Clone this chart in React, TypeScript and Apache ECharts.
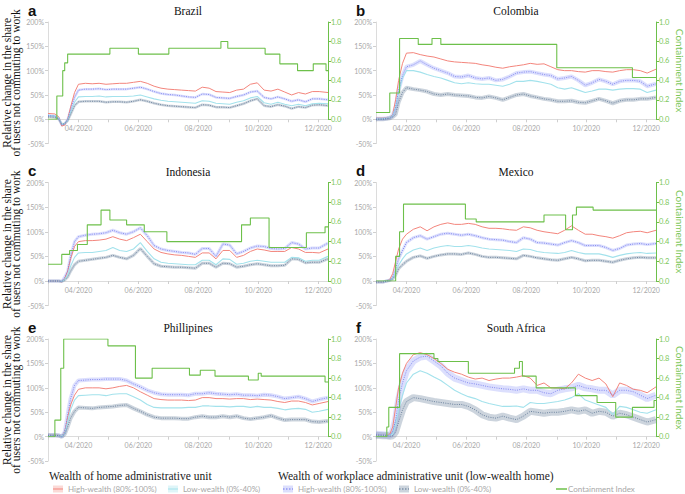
import React, { useEffect, useRef } from 'react';
import * as echarts from 'echarts';

// sample dates shared by every mobility series (MM-DD, year 2020)
const SAMPLE_DATES = [
  '03-01', '03-08', '03-12', '03-15', '03-18', '03-21', '03-24', '03-28', '04-01', '04-08',
  '04-15', '04-22', '04-29', '05-06', '05-13', '05-20', '05-27', '06-03', '06-10', '06-17',
  '06-24', '07-01', '07-08', '07-15', '07-22', '07-29', '08-05', '08-12', '08-19', '08-26',
  '09-02', '09-09', '09-16', '09-23', '09-30', '10-07', '10-14', '10-21', '10-28', '11-04',
  '11-11', '11-18', '11-25', '12-02', '12-11',
];
const MONTH_TICKS = ['03-01', '04-01', '05-01', '06-01', '07-01', '08-01', '09-01', '10-01', '11-01', '12-01'];
const MONTH_LABELS = ['04-01', '06-01', '08-01', '10-01', '12-01'];
const X_START = '03-01';
const X_END = '12-11';

// Brazil
const brazilHomeHigh = [12, 11, 5, -14, -12, 0, 25, 55, 72, 74, 73, 74, 72, 73, 74, 74, 76, 78, 74, 68, 64, 62, 61, 60, 59, 58, 66, 64, 57, 56, 55, 60, 62, 72, 75, 60, 58, 62, 56, 50, 55, 52, 57, 57, 55];
const brazilHomeLow = [8, 7, 2, -10, -9, -2, 15, 35, 46, 47, 47, 48, 46, 47, 47, 47, 48, 50, 46, 42, 39, 37, 36, 35, 34, 33, 38, 37, 33, 32, 31, 35, 38, 44, 47, 34, 31, 35, 31, 28, 31, 28, 32, 33, 32];
const brazilWorkHigh = [8, 7, 2, -12, -10, 0, 20, 45, 60, 62, 62, 63, 61, 62, 62, 62, 64, 66, 62, 57, 53, 51, 50, 48, 46, 45, 52, 51, 45, 44, 43, 47, 50, 56, 58, 45, 42, 46, 42, 37, 40, 36, 42, 42, 40];
const brazilWorkLow = [5, 4, 0, -10, -9, -3, 10, 28, 36, 37, 37, 37, 35, 36, 36, 35, 37, 40, 37, 33, 30, 28, 27, 26, 25, 24, 30, 29, 25, 25, 24, 28, 32, 38, 42, 28, 26, 30, 27, 22, 26, 24, 29, 30, 28];
const brazilContainment: [string, number][] = [
  ['03-01', 0], ['03-10', 0.24], ['03-16', 0.5], ['03-18', 0.58], ['03-21', 0.67], ['05-03', 0.73],
  ['06-01', 0.67], ['07-02', 0.73], ['08-24', 0.8], ['08-31', 0.73], ['10-08', 0.67], ['10-23', 0.57],
  ['11-10', 0.5], ['11-26', 0.57], ['12-09', 0.5], ['12-11', 0.5],
];

// Colombia
const colombiaHomeHigh = [2, 2, 2, 3, 10, 40, 80, 115, 136, 137, 133, 130, 128, 124, 120, 118, 117, 116, 115, 112, 110, 107, 105, 108, 110, 112, 115, 113, 114, 108, 102, 100, 100, 98, 97, 100, 100, 98, 97, 100, 102, 102, 100, 95, 103];
const colombiaHomeLow = [1, 1, 2, 3, 8, 25, 55, 85, 100, 100, 97, 92, 88, 85, 80, 75, 73, 75, 73, 72, 72, 70, 68, 72, 78, 78, 80, 78, 75, 72, 65, 62, 65, 60, 55, 58, 62, 62, 60, 62, 63, 63, 62, 55, 60];
const colombiaWorkHigh = [1, 1, 2, 3, 8, 25, 60, 90, 108, 112, 120, 112, 105, 100, 95, 88, 87, 90, 85, 83, 85, 80, 82, 88, 95, 97, 98, 95, 92, 90, 83, 85, 88, 80, 70, 75, 82, 78, 72, 78, 80, 80, 78, 68, 73];
const colombiaWorkLow = [0, 0, 1, 2, 5, 10, 35, 55, 65, 62, 60, 57, 52, 50, 52, 50, 49, 48, 45, 44, 47, 44, 40, 45, 50, 52, 48, 45, 42, 40, 37, 37, 38, 35, 34, 38, 42, 38, 33, 38, 40, 40, 42, 42, 45];
const colombiaContainment: [string, number][] = [
  ['03-01', 0.07], ['03-15', 0.27], ['03-25', 0.83], ['04-13', 0.77], ['04-27', 0.83], ['05-06', 0.77],
  ['09-01', 0.53], ['11-17', 0.43], ['12-11', 0.43],
];

// Indonesia
const indonesiaHomeHigh = [0, 0, 0, -2, 5, 20, 45, 70, 80, 82, 82, 83, 85, 90, 85, 82, 88, 95, 80, 65, 58, 55, 53, 52, 50, 48, 57, 57, 45, 62, 62, 48, 52, 60, 65, 63, 60, 60, 60, 68, 65, 58, 58, 57, 65];
const indonesiaHomeLow = [0, 0, 0, -1, 3, 12, 30, 48, 57, 58, 58, 60, 62, 68, 62, 60, 65, 78, 60, 45, 38, 36, 35, 34, 33, 33, 42, 42, 33, 45, 44, 34, 36, 40, 42, 40, 38, 38, 38, 48, 47, 40, 42, 42, 50];
const indonesiaWorkHigh = [0, 0, 0, -1, 8, 20, 50, 80, 90, 93, 95, 96, 98, 103, 98, 95, 100, 108, 92, 72, 65, 62, 60, 58, 57, 54, 66, 66, 50, 75, 73, 55, 60, 67, 71, 70, 66, 65, 66, 78, 75, 65, 67, 67, 77];
const indonesiaWorkLow = [0, 0, 0, -1, 2, 8, 20, 33, 40, 42, 44, 46, 48, 52, 48, 45, 52, 66, 50, 35, 30, 29, 28, 28, 27, 26, 36, 36, 28, 36, 35, 28, 30, 33, 35, 33, 31, 31, 32, 45, 44, 37, 38, 38, 45];
const indonesiaContainment: [string, number][] = [
  ['03-01', 0.17], ['03-15', 0.27], ['03-23', 0.31], ['03-31', 0.37], ['04-10', 0.57], ['04-24', 0.72],
  ['05-03', 0.62], ['05-20', 0.57], ['06-07', 0.5], ['06-30', 0.4], ['09-14', 0.57], ['09-23', 0.64],
  ['10-12', 0.34], ['11-19', 0.49], ['12-08', 0.55], ['12-11', 0.55],
];

// Mexico
const mexicoHomeHigh = [-2, -2, 0, 3, 15, 40, 65, 85, 95, 105, 110, 102, 110, 115, 118, 115, 115, 117, 115, 110, 107, 107, 106, 104, 103, 110, 108, 103, 100, 98, 96, 103, 112, 103, 95, 95, 92, 90, 87, 92, 98, 100, 101, 98, 103];
const mexicoHomeLow = [-2, -2, 0, 2, 5, 18, 32, 45, 55, 63, 67, 62, 67, 70, 72, 70, 70, 72, 70, 67, 65, 64, 63, 62, 60, 65, 64, 60, 58, 57, 56, 58, 62, 58, 55, 55, 55, 52, 48, 52, 55, 57, 58, 56, 57];
const mexicoWorkHigh = [-2, -2, 0, 2, 8, 25, 45, 62, 78, 88, 92, 85, 90, 95, 97, 95, 93, 95, 92, 88, 85, 84, 83, 80, 78, 88, 85, 78, 77, 75, 73, 78, 82, 78, 72, 72, 72, 68, 62, 66, 73, 75, 76, 74, 76];
const mexicoWorkLow = [-2, -2, 0, 1, 4, 12, 25, 33, 40, 48, 51, 46, 50, 53, 55, 55, 54, 57, 54, 50, 48, 48, 47, 46, 45, 52, 50, 47, 45, 43, 42, 45, 48, 45, 41, 42, 42, 40, 38, 42, 45, 47, 48, 47, 47];
const mexicoContainment: [string, number][] = [
  ['03-01', 0], ['03-21', 0.25], ['03-25', 0.5], ['03-29', 0.78], ['05-31', 0.63], ['06-11', 0.6],
  ['08-19', 0.67], ['09-10', 0.52], ['09-17', 0.67], ['09-21', 0.75], ['10-08', 0.72], ['12-11', 0.72],
];

// Phillipines
const philippinesHomeHigh = [3, 3, 3, 0, 10, 40, 65, 85, 97, 100, 100, 100, 98, 100, 103, 105, 100, 92, 85, 78, 76, 75, 75, 75, 74, 75, 80, 80, 78, 78, 77, 78, 78, 76, 77, 76, 75, 72, 70, 73, 73, 70, 65, 68, 72];
const philippinesHomeLow = [3, 3, 3, 0, 8, 30, 55, 75, 84, 85, 86, 86, 84, 87, 88, 88, 82, 75, 66, 60, 59, 59, 59, 59, 60, 60, 63, 63, 62, 62, 61, 62, 62, 60, 62, 60, 60, 58, 55, 57, 58, 56, 50, 52, 56];
const philippinesWorkHigh = [3, 3, 3, 0, 10, 45, 78, 105, 115, 116, 117, 117, 118, 118, 118, 115, 108, 102, 95, 90, 87, 86, 86, 86, 85, 88, 88, 90, 88, 87, 86, 87, 85, 85, 84, 86, 85, 82, 78, 80, 82, 78, 72, 76, 80];
const philippinesWorkLow = [3, 3, 2, 0, 5, 20, 38, 52, 60, 59, 58, 60, 61, 62, 64, 65, 58, 52, 45, 40, 38, 38, 38, 37, 37, 40, 42, 40, 40, 42, 40, 42, 38, 36, 38, 40, 43, 38, 34, 35, 35, 35, 31, 30, 32];
const philippinesContainment: [string, number][] = [
  ['03-01', 0], ['03-08', 0.17], ['03-14', 0.7], ['03-17', 1.0], ['05-01', 0.93], ['05-29', 0.6],
  ['06-15', 0.7], ['07-23', 0.63], ['08-03', 0.68], ['08-18', 0.62], ['09-21', 0.58], ['10-01', 0.65],
  ['10-04', 0.62], ['12-08', 0.56], ['12-11', 0.56],
];

// South Africa
const southAfricaHomeHigh = [3, 3, 3, 5, 20, 60, 100, 130, 150, 168, 172, 168, 160, 150, 138, 132, 128, 122, 118, 120, 115, 118, 120, 120, 122, 125, 120, 105, 110, 100, 100, 98, 110, 128, 120, 115, 120, 108, 82, 110, 105, 97, 95, 90, 102];
const southAfricaHomeLow = [3, 3, 3, 3, 5, 25, 55, 85, 110, 128, 135, 130, 122, 115, 105, 95, 88, 82, 78, 72, 68, 65, 62, 62, 63, 60, 70, 68, 68, 70, 72, 75, 80, 88, 75, 70, 65, 60, 45, 62, 60, 55, 50, 48, 55];
const southAfricaWorkHigh = [5, 4, 3, 3, 10, 35, 75, 110, 135, 155, 163, 165, 155, 145, 130, 120, 115, 110, 108, 105, 102, 100, 98, 97, 95, 98, 95, 95, 90, 88, 95, 98, 100, 105, 100, 98, 95, 95, 85, 95, 95, 92, 85, 78, 85];
const southAfricaWorkLow = [3, 2, 2, 1, 2, 10, 30, 55, 72, 80, 78, 75, 72, 70, 68, 66, 66, 62, 55, 45, 40, 38, 42, 38, 35, 42, 52, 50, 48, 50, 50, 52, 55, 52, 55, 48, 52, 50, 42, 48, 45, 40, 35, 30, 35];
const southAfricaContainment: [string, number][] = [
  ['03-01', 0], ['03-12', 0.1], ['03-14', 0.3], ['03-25', 0.85], ['04-29', 0.8], ['05-03', 0.77],
  ['06-03', 0.65], ['07-20', 0.7], ['07-25', 0.77], ['07-28', 0.62], ['08-11', 0.5], ['09-20', 0.42],
  ['10-12', 0.35], ['10-31', 0.2], ['11-17', 0.3], ['12-09', 0.37], ['12-11', 0.37],
];

const PANELS = [
  { letter: 'a', name: 'Brazil', homeHigh: brazilHomeHigh, homeLow: brazilHomeLow, workHigh: brazilWorkHigh, workLow: brazilWorkLow, ci: brazilContainment, band: 2.5 },
  { letter: 'b', name: 'Colombia', homeHigh: colombiaHomeHigh, homeLow: colombiaHomeLow, workHigh: colombiaWorkHigh, workLow: colombiaWorkLow, ci: colombiaContainment, band: 4 },
  { letter: 'c', name: 'Indonesia', homeHigh: indonesiaHomeHigh, homeLow: indonesiaHomeLow, workHigh: indonesiaWorkHigh, workLow: indonesiaWorkLow, ci: indonesiaContainment, band: 3 },
  { letter: 'd', name: 'Mexico', homeHigh: mexicoHomeHigh, homeLow: mexicoHomeLow, workHigh: mexicoWorkHigh, workLow: mexicoWorkLow, ci: mexicoContainment, band: 3 },
  { letter: 'e', name: 'Phillipines', homeHigh: philippinesHomeHigh, homeLow: philippinesHomeLow, workHigh: philippinesWorkHigh, workLow: philippinesWorkLow, ci: philippinesContainment, band: 4 },
  { letter: 'f', name: 'South Africa', homeHigh: southAfricaHomeHigh, homeLow: southAfricaHomeLow, workHigh: southAfricaWorkHigh, workLow: southAfricaWorkLow, ci: southAfricaContainment, band: 7 },
];

const RED = '#f3857c';
const CYAN = '#a3e2ec';
const BLUE = '#6c72ec';
const BLUE_BAND = 'rgba(140,148,248,0.3)';
const GRAY = '#55708f';
const GRAY_BAND = 'rgba(105,128,155,0.34)';
const GREEN = '#6dc04a';
const GREEN_TEXT = '#7cc75a';
const LABEL_GRAY = '#a8a8a8';
const SERIF = '"Liberation Serif", "Times New Roman", serif';
const SANS = 'Lato, "Noto Sans", sans-serif';
const DOTS = [1, 1.3];

// layout (px)
const COL_LEFT = [48, 376];
const PLOT_W = 280;
const ROW_TOP = [22, 182.5, 339];
const ROW_ZERO = [119.3, 281, 436.7];

const ts = (md: string) => Date.UTC(2020, Number(md.slice(0, 2)) - 1, Number(md.slice(3)));
const fmtMonth = (v: number) => {
  const d = new Date(v);
  return `${String(d.getUTCMonth() + 1).padStart(2, '0')}/${d.getUTCFullYear()}`;
};
const zip = (vals: number[]) => SAMPLE_DATES.map((d, i) => [ts(d), vals[i]]);

function buildOption(): echarts.EChartsOption {
  const grid: any[] = [];
  const xAxis: any[] = [];
  const yAxis: any[] = [];
  const series: any[] = [];
  const graphic: any[] = [];

  PANELS.forEach((p, i) => {
    const row = Math.floor(i / 2);
    const col = i % 2;
    const left = COL_LEFT[col];
    const top = ROW_TOP[row];
    const h200 = ROW_ZERO[row] - top;
    const g = i * 2;

    // g: full -50%..200% plot, g + 1: 0%..200% part, holds the containment index and the date axis
    grid.push({ left, top, width: PLOT_W, height: h200 * 1.25 });
    grid.push({ left, top, width: PLOT_W, height: h200 });

    xAxis.push({ gridIndex: g, type: 'value', min: ts(X_START), max: ts(X_END), show: false });
    xAxis.push({
      gridIndex: g + 1,
      type: 'value',
      min: ts(X_START),
      max: ts(X_END),
      axisLine: { onZero: false, lineStyle: { color: '#dcdcdc', width: 1 } },
      axisTick: { customValues: MONTH_TICKS.map(ts), length: 3, lineStyle: { color: '#cfcfcf' } },
      axisLabel: {
        customValues: MONTH_LABELS.map(ts),
        formatter: (v: number) => fmtMonth(v),
        fontSize: 7,
        color: LABEL_GRAY,
        fontFamily: SANS,
        margin: 5,
      },
      splitLine: { show: false },
    });

    yAxis.push({
      gridIndex: g,
      type: 'value',
      min: -50,
      max: 200,
      interval: 50,
      axisLine: { show: true, onZero: false, lineStyle: { color: '#dcdcdc' } },
      axisTick: { show: true, length: 3, lineStyle: { color: '#cfcfcf' } },
      axisLabel: { formatter: '{value}%', fontSize: 7, color: LABEL_GRAY, fontFamily: SANS, margin: 4 },
      splitLine: { show: false },
    });
    yAxis.push({
      gridIndex: g + 1,
      type: 'value',
      position: 'right',
      min: 0,
      max: 1,
      interval: 0.2,
      axisLine: { show: true, onZero: false, lineStyle: { color: GREEN } },
      axisTick: { show: true, length: 3, lineStyle: { color: GREEN } },
      axisLabel: { formatter: (v: number) => v.toFixed(1), fontSize: 7.5, color: GREEN_TEXT, fontFamily: SANS, margin: 3 },
      splitLine: { show: false },
    });

    const base = { type: 'line', xAxisIndex: g, yAxisIndex: g, showSymbol: false, symbol: 'none', silent: true };
    series.push({ ...base, name: `${p.name} band high`, data: zip(p.workHigh), lineStyle: { color: BLUE_BAND, width: p.band }, z: 1 });
    series.push({ ...base, name: `${p.name} band low`, data: zip(p.workLow), lineStyle: { color: GRAY_BAND, width: p.band }, z: 1 });
    series.push({ ...base, name: `${p.name} home high`, data: zip(p.homeHigh), lineStyle: { color: RED, width: 1 }, z: 2 });
    series.push({ ...base, name: `${p.name} home low`, data: zip(p.homeLow), lineStyle: { color: CYAN, width: 1.1 }, z: 2 });
    series.push({ ...base, name: `${p.name} work high`, data: zip(p.workHigh), lineStyle: { color: BLUE, width: 0.8, type: DOTS }, z: 3 });
    series.push({ ...base, name: `${p.name} work low`, data: zip(p.workLow), lineStyle: { color: GRAY, width: 0.8, type: DOTS }, z: 3 });
    series.push({
      ...base,
      name: `${p.name} containment`,
      xAxisIndex: g + 1,
      yAxisIndex: g + 1,
      step: 'end',
      data: p.ci.map(([d, v]) => [ts(d), v]),
      lineStyle: { color: GREEN, width: 1.1 },
      z: 4,
    });

    // panel letter and country title
    graphic.push({
      type: 'text',
      x: left - 20,
      y: top - 12,
      style: { text: p.letter, font: `bold 15px "Liberation Sans", Arial, sans-serif`, fill: '#111', textVerticalAlign: 'middle' },
    });
    graphic.push({
      type: 'text',
      x: left + PLOT_W / 2,
      y: top - 11,
      style: { text: p.name, font: `11.5px ${SERIF}`, fill: '#111', textAlign: 'center', textVerticalAlign: 'middle' },
    });

    if (col === 0) {
      graphic.push({
        type: 'text',
        x: 11,
        y: top + (h200 * 1.25) / 2,
        rotation: Math.PI / 2,
        style: {
          text: 'Relative change in the share\nof users not commuting to work',
          font: `11.5px ${SERIF}`,
          lineHeight: 9,
          fill: '#111',
          textAlign: 'center',
          textVerticalAlign: 'middle',
        },
      });
    } else {
      graphic.push({
        type: 'text',
        x: 680,
        y: top + h200 / 2,
        rotation: -Math.PI / 2,
        style: { text: 'Containment Index', font: `10px ${SANS}`, fill: GREEN_TEXT, textAlign: 'center', textVerticalAlign: 'middle' },
      });
    }
  });

  // legend
  const legendY = 489;
  const headFont = `11.5px ${SERIF}`;
  const itemFont = `8px ${SANS}`;
  graphic.push({ type: 'text', x: 49, y: 476, style: { text: 'Wealth of home administrative unit', font: headFont, fill: '#222', textVerticalAlign: 'middle' } });
  graphic.push({ type: 'text', x: 278, y: 476, style: { text: 'Wealth of workplace administrative unit (low-wealth home)', font: headFont, fill: '#222', textVerticalAlign: 'middle' } });

  const items = [
    { x: 53, fill: 'rgba(243,133,124,0.3)', stroke: RED, dash: null, text: 'High-wealth (80%-100%)' },
    { x: 168, fill: 'rgba(163,226,236,0.35)', stroke: CYAN, dash: null, text: 'Low-wealth (0%-40%)' },
    { x: 283, fill: BLUE_BAND, stroke: BLUE, dash: [1.5, 1.5], text: 'High-wealth (80%-100%)' },
    { x: 399, fill: GRAY_BAND, stroke: GRAY, dash: [1.5, 1.5], text: 'Low-wealth (0%-40%)' },
  ];
  items.forEach((it) => {
    graphic.push({ type: 'rect', shape: { x: it.x, y: legendY - 3.5, width: 10, height: 7 }, style: { fill: it.fill } });
    graphic.push({
      type: 'line',
      shape: { x1: it.x, y1: legendY, x2: it.x + 10, y2: legendY },
      style: { stroke: it.stroke, lineWidth: 1, lineDash: it.dash },
    });
    graphic.push({ type: 'text', x: it.x + 15, y: legendY, style: { text: it.text, font: itemFont, fill: LABEL_GRAY, textVerticalAlign: 'middle' } });
  });
  graphic.push({ type: 'line', shape: { x1: 556, y1: legendY, x2: 567, y2: legendY }, style: { stroke: GREEN, lineWidth: 1.5 } });
  graphic.push({ type: 'text', x: 568, y: legendY, style: { text: 'Containment Index', font: itemFont, fill: LABEL_GRAY, textVerticalAlign: 'middle' } });

  return {
    animation: false,
    backgroundColor: '#ffffff',
    textStyle: { fontFamily: SANS },
    grid,
    xAxis,
    yAxis,
    series,
    graphic,
  };
}

export default function App() {
  const chartRef = useRef<HTMLDivElement>(null);

  useEffect(() => {
    if (!chartRef.current) return;
    const chart = echarts.init(chartRef.current, null, { renderer: 'svg' });
    chart.setOption(buildOption());
    return () => {
      chart.dispose();
    };
  }, []);

  return <div ref={chartRef} style={{ position: 'absolute', left: 0, top: 0, width: 685, height: 494 }} />;
}
